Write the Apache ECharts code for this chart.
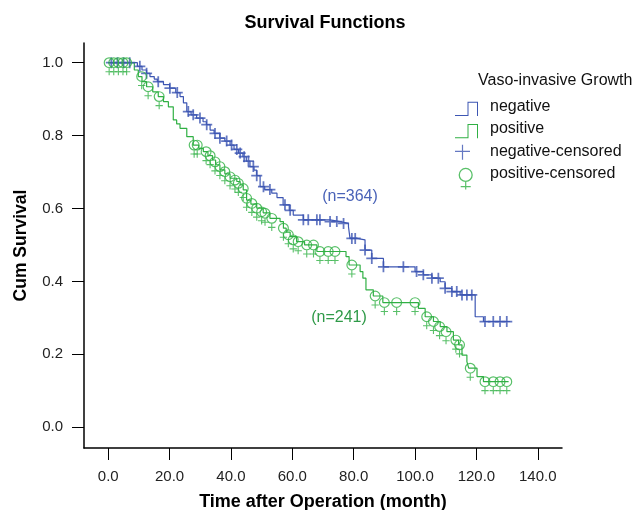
<!DOCTYPE html>
<html>
<head>
<meta charset="utf-8">
<script src="https://cdn.jsdelivr.net/npm/echarts@6/dist/echarts.min.js"></script>
<style>
  html, body { margin: 0; padding: 0; background: #fff; }
</style>
</head>
<body>
<div id="chart" style="width: 633px; height: 510px"></div>
<script>
// Kaplan-Meier steps, [month, cum survival]
const negativeSteps = [
  [0, 1.0], [9.5, 0.99], [11, 0.98], [12.5, 0.971], [13.6, 0.962], [15, 0.955], [16, 0.948],
  [18, 0.94], [20, 0.93], [22, 0.918], [23.4, 0.907], [24.5, 0.89], [25.6, 0.866], [27, 0.857],
  [28.8, 0.848], [30.9, 0.838], [32, 0.83], [33.2, 0.815], [34.5, 0.806], [36.4, 0.793],
  [38, 0.785], [39.7, 0.774], [41, 0.762], [42.5, 0.752], [43.9, 0.742], [45, 0.73],
  [46.2, 0.715], [47.5, 0.705], [48.4, 0.69], [49.5, 0.66], [51, 0.652], [53.3, 0.642],
  [55, 0.63], [57, 0.61], [59, 0.595], [60.3, 0.582], [63.6, 0.569], [72.3, 0.564],
  [75.6, 0.559], [78.3, 0.55], [78.8, 0.518], [81, 0.514], [83.7, 0.486], [85.9, 0.463],
  [89.7, 0.44], [100, 0.427], [102.7, 0.418], [105.5, 0.409], [108.2, 0.399], [109.8, 0.381],
  [112, 0.372], [114.7, 0.363], [119.6, 0.303], [122.3, 0.29], [131, 0.29]
]
const positiveSteps = [
  [0, 1.0], [7, 1.0], [8.5, 0.98], [9.8, 0.962], [11, 0.948], [12.5, 0.934], [14.5, 0.92],
  [16.3, 0.907], [18, 0.893], [19.6, 0.879], [21.2, 0.843], [22.3, 0.832], [23.4, 0.82],
  [25.6, 0.797], [27.7, 0.774], [29.5, 0.765], [31, 0.756], [32.5, 0.745], [34, 0.733],
  [35, 0.72], [36.4, 0.706], [38, 0.695], [39.7, 0.683], [41.9, 0.674], [43, 0.665],
  [44, 0.651], [45.1, 0.623], [46.5, 0.612], [48.4, 0.601], [50.5, 0.588], [52.7, 0.573],
  [56, 0.564], [57.1, 0.546], [58, 0.535], [59.3, 0.523], [61.4, 0.509], [64, 0.5],
  [68, 0.482], [77.5, 0.468], [78.5, 0.445], [82.1, 0.427], [83, 0.409], [84, 0.377],
  [86.4, 0.36], [89.5, 0.342], [101.1, 0.326], [103.3, 0.303], [106, 0.29], [108.2, 0.276],
  [110.4, 0.262], [112.5, 0.239], [114.2, 0.226], [115.3, 0.198], [116.9, 0.18],
  [117.5, 0.162], [120.2, 0.139], [122.3, 0.125], [130.5, 0.125]
]
// censored cases
const negativeCensored = [
  [1, 1], [3, 1], [5, 1], [7, 1], [10.3, 0.99], [12.5, 0.971], [16.3, 0.948], [20.1, 0.93],
  [22.5, 0.918], [26.1, 0.866], [27.7, 0.857], [29.9, 0.848], [32.1, 0.83], [34.8, 0.806],
  [36.4, 0.793], [38.6, 0.785], [40.2, 0.774], [41.9, 0.762], [43, 0.752], [44.3, 0.742],
  [45.7, 0.73], [47.3, 0.715], [48.4, 0.69], [50.6, 0.66], [52.7, 0.652], [57.6, 0.61],
  [59.3, 0.595], [63.6, 0.569], [65.2, 0.569], [68, 0.569], [69, 0.569], [72.3, 0.564],
  [74.5, 0.564], [76.7, 0.559], [79.4, 0.518], [80.5, 0.518], [83.7, 0.486], [85.9, 0.463],
  [89.7, 0.44], [96.2, 0.44], [100.5, 0.427], [102.7, 0.418], [105.5, 0.409], [107.6, 0.409],
  [109.8, 0.381], [112, 0.372], [113.6, 0.372], [115.3, 0.363], [116.9, 0.363], [118.5, 0.363],
  [122.8, 0.29], [125.5, 0.29], [127.7, 0.29], [129.9, 0.29]
]
const positiveCensored = [
  [0.3, 1], [1.8, 1], [3.3, 1], [4.8, 1], [6, 1], [10.9, 0.962], [13, 0.934], [16.6, 0.907],
  [28, 0.774], [29, 0.774], [31.9, 0.756], [33.2, 0.745], [34.8, 0.728], [36.4, 0.715],
  [38, 0.701], [39.7, 0.687], [41.3, 0.678], [42.4, 0.669], [44, 0.655], [45.1, 0.628],
  [46.8, 0.614], [48.4, 0.601], [50, 0.591], [51.1, 0.587], [53.3, 0.573], [57.1, 0.546],
  [58.7, 0.528], [60.3, 0.514], [61.9, 0.509], [64.7, 0.5], [66.9, 0.5], [69, 0.482],
  [71.7, 0.482], [73.9, 0.482], [79.4, 0.445], [87, 0.36], [90, 0.342], [94, 0.342],
  [100, 0.342], [103.8, 0.303], [106, 0.29], [108, 0.276], [110.1, 0.262], [113.3, 0.239],
  [114.5, 0.226], [118, 0.162], [122.8, 0.125], [125.5, 0.125], [127.7, 0.125], [129.9, 0.125]
]
const xTicks = [0, 20, 40, 60, 80, 100, 120, 140]
const yTicks = [0, 0.2, 0.4, 0.6, 0.8, 1.0]
const groupNames = ['negative', 'positive', 'negative-censored', 'positive-censored']
const groupCounts = ['(n=364)', '(n=241)']

const BLUE = '#3d56b3'
const GREEN = '#30b044'
const CROSS = 'path://M4.2,0H5.8V4.2H10V5.8H5.8V10H4.2V5.8H0V4.2H4.2Z'
const FEMALE = 'path://M0,6A6,6 0 1,1 12,6A6,6 0 1,1 0,6ZM1.3,6A4.7,4.7 0 1,0 10.7,6A4.7,4.7 0 1,0 1.3,6ZM5.4,12H6.6V20H5.4ZM2,15.4H10V16.6H2Z'
// legend icons drawn in a 23x32 box (tiny corner specks fix the box)
const BOX = 'M0,0h0.01v0.01h-0.01ZM22.99,31.99h0.01v0.01h-0.01Z'
const LEG_STEP = 'path://' + BOX + 'M0,24.3H12.5V11H23V25.3H22V12H13.5V25.3H0Z'
const LEG_CROSS = 'path://' + BOX + 'M6.9,9.4H8.1V15.5H15V16.7H8.1V24.4H6.9V16.7H0V15.5H6.9Z'
const LEG_FEMALE = 'path://' + BOX +
  'M3.6,17.3A7.1,7.1 0 1,1 17.8,17.3A7.1,7.1 0 1,1 3.6,17.3Z' +
  'M4.9,17.3A5.8,5.8 0 1,0 16.5,17.3A5.8,5.8 0 1,0 4.9,17.3Z' +
  'M10.1,24.3H11.3V32H10.1ZM5.7,28.4H15.7V29.6H5.7Z'

const chart = echarts.init(document.getElementById('chart'))
const font = 'Liberation Sans, Arial, sans-serif'

chart.setOption({
  animation: false,
  textStyle: { fontFamily: font },
  title: [{
    text: 'Survival Functions',
    left: 320,
    textAlign: 'center',
    top: 9,
    textStyle: { fontSize: 18, fontWeight: 'bold', color: '#000', fontFamily: font }
  }, {
    text: 'Vaso-invasive Growth',
    left: 473,
    top: 68,
    textStyle: { fontSize: 16, fontWeight: 'normal', color: '#111', fontFamily: font }
  }],
  legend: {
    orient: 'vertical',
    left: 455,
    top: 90.7,
    padding: 0,
    itemWidth: 23,
    itemHeight: 32,
    itemGap: -9.7,
    selectedMode: false,
    textStyle: { fontSize: 16, color: '#111', padding: [0, 0, 0, 7], fontFamily: font },
    data: [
      { name: groupNames[0], icon: LEG_STEP },
      { name: groupNames[1], icon: LEG_STEP },
      { name: groupNames[2], icon: LEG_CROSS },
      { name: groupNames[3], icon: LEG_FEMALE }
    ]
  },
  grid: { left: 84, right: 71, top: 43, bottom: 62, outerBoundsMode: 'none' },
  xAxis: {
    type: 'value',
    min: -7.9,
    max: 147.9,
    name: 'Time after Operation (month)',
    nameLocation: 'middle',
    nameGap: 45,
    nameTextStyle: { fontSize: 18, fontWeight: 'bold', color: '#000', fontFamily: font },
    axisLine: { show: true, onZero: false, lineStyle: { color: '#000', width: 1.5 } },
    axisTick: { show: true, length: 12, customValues: xTicks, lineStyle: { color: '#000', width: 1 } },
    axisLabel: {
      customValues: xTicks, margin: 21, fontSize: 15, color: '#222',
      formatter: v => v.toFixed(1)
    },
    splitLine: { show: false }
  },
  yAxis: {
    type: 'value',
    min: -0.057,
    max: 1.054,
    name: 'Cum Survival',
    nameLocation: 'middle',
    nameGap: 54,
    nameTextStyle: { fontSize: 17.5, fontWeight: 'bold', color: '#000', fontFamily: font },
    axisLine: { show: true, onZero: false, lineStyle: { color: '#000', width: 1.5 } },
    axisTick: { show: true, length: 12, customValues: yTicks, lineStyle: { color: '#000', width: 1 } },
    axisLabel: {
      customValues: yTicks, margin: 21, fontSize: 15, color: '#222',
      formatter: v => v.toFixed(1)
    },
    splitLine: { show: false }
  },
  series: [{
    name: groupNames[0],
    type: 'line',
    step: 'end',
    data: negativeSteps,
    showSymbol: false,
    color: BLUE,
    lineStyle: { color: BLUE, width: 1.2 },
    z: 2,
    markPoint: {
      symbol: 'circle',
      symbolSize: 0,
      label: { show: true, position: 'inside', formatter: groupCounts[0], fontSize: 16, color: '#4a63b8' },
      data: [{ coord: [78.8, 0.634] }]
    }
  }, {
    name: groupNames[1],
    type: 'line',
    step: 'end',
    data: positiveSteps,
    showSymbol: false,
    color: GREEN,
    lineStyle: { color: GREEN, width: 1.2 },
    z: 2,
    markPoint: {
      symbol: 'circle',
      symbolSize: 0,
      label: { show: true, position: 'inside', formatter: groupCounts[1], fontSize: 16, color: '#2f9a48' },
      data: [{ coord: [75.2, 0.3] }]
    }
  }, {
    name: groupNames[2],
    type: 'scatter',
    data: negativeCensored,
    symbol: CROSS,
    symbolSize: 11,
    color: BLUE,
    itemStyle: { color: BLUE },
    z: 3
  }, {
    name: groupNames[3],
    type: 'scatter',
    data: positiveCensored,
    symbol: FEMALE,
    symbolSize: [11, 18],
    symbolOffset: [0, 3.6],
    color: GREEN,
    itemStyle: { color: GREEN },
    z: 3
  }]
})
</script>
</body>
</html>
